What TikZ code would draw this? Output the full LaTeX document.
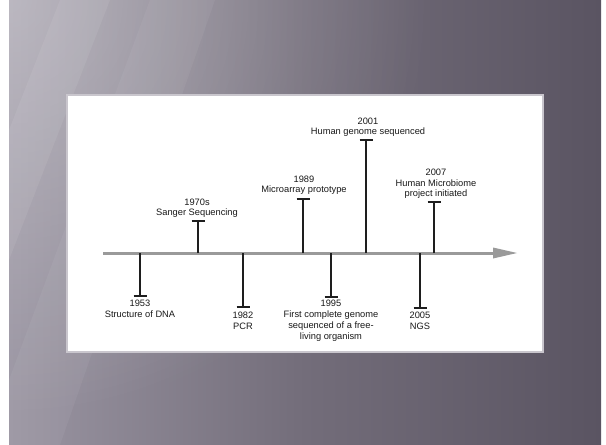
\documentclass[tikz,border=0pt]{standalone}
\usepackage{fontspec}
\setmainfont{Liberation Sans}
\usetikzlibrary{fadings}
\definecolor{bgA}{HTML}{9A95A2}
\definecolor{bgB}{HTML}{736D7A}
\definecolor{bgC}{HTML}{5A5462}
\definecolor{axisgray}{HTML}{9A9A9A}
\definecolor{stemcol}{HTML}{1E1E1E}
\definecolor{paneledge}{HTML}{C9C6CD}
\tikzfading[name=fadeRad, inner color=transparent!0, outer color=transparent!100]
\tikzset{
  stemline/.style={draw=stemcol, line width=2pt},
  capline/.style={draw=stemcol, line width=2.6pt},
  lblabove/.style={anchor=south, inner sep=0pt, align=center, font=\fontsize{9.3}{10.6}\selectfont, text=black!90},
  lblbelow/.style={anchor=north, inner sep=0pt, align=center, font=\fontsize{9.3}{10.8}\selectfont, text=black!90},
  axisline/.style={draw=axisgray, line width=3pt},
}
\begin{document}
\begin{tikzpicture}[x=1pt,y=-1pt]
\useasboundingbox (0,0) rectangle (606,445);
\fill[white] (0,0) rectangle (606,445);
% slide background
\shade[left color=bgA, right color=bgC, middle color=bgB] (9,0) rectangle (601,445);
\begin{scope}
\clip (9,0) rectangle (601,445);
\fill[white, fill opacity=0.33, path fading=fadeRad] (9,0) circle[radius=420pt];
\fill[white, fill opacity=0.07] (9,130) -- (60,0) -- (110,0) -- (9,260) -- cycle;
\fill[white, fill opacity=0.05] (150,0) -- (215,0) -- (60,445) -- (9,445) -- (9,380) -- cycle;
\end{scope}
% panel
\fill[white, draw=paneledge, line width=1.5pt] (67,95) rectangle (543,352);
% axis
\coordinate (ax0) at (103,253);
\coordinate (axe) at (493,253);
\coordinate (tip) at (517,253);
\draw[axisline] (ax0) -- (axe);
\fill[axisgray] (493,247.5) -- (tip) -- (493,258.5) -- cycle;

% events above
\foreach \n/\x/\c in {s/198/221, m/303/199, h/366/140, b/434/202}{
  \coordinate (a\n) at (\x,253);
  \coordinate (c\n) at (\x,\c);
  \draw[stemline] (a\n) -- (c\n);
  \draw[capline] ([xshift=-6.5pt]c\n) -- ([xshift=6.5pt]c\n);
}
% events below
\foreach \n/\x/\c in {d/140/296, p/243/307, f/331/297, g/420/308}{
  \coordinate (a\n) at (\x,253);
  \coordinate (c\n) at (\x,\c);
  \draw[stemline] (a\n) -- (c\n);
  \draw[capline] ([xshift=-6.5pt]c\n) -- ([xshift=6.5pt]c\n);
}

\node[lblabove] (ls) at (197,218) {1970s\\Sanger Sequencing};
\node[lblabove] (lm) at (304,195) {1989\\Microarray prototype};
\node[lblabove] (lh) at (368,137) {2001\\Human genome sequenced};
\node[lblabove] (lb) at (436,199) {2007\\Human Microbiome\\project initiated};

\node[lblbelow] (ld) at (140,300) {1953\\Structure of DNA};
\node[lblbelow] (lp) at (243,312) {1982\\PCR};
\node[lblbelow] (lf) at (331,300) {1995\\First complete genome\\sequenced of a free-\\living organism};
\node[lblbelow] (lg) at (420,312) {2005\\NGS};
\end{tikzpicture}
\end{document}
